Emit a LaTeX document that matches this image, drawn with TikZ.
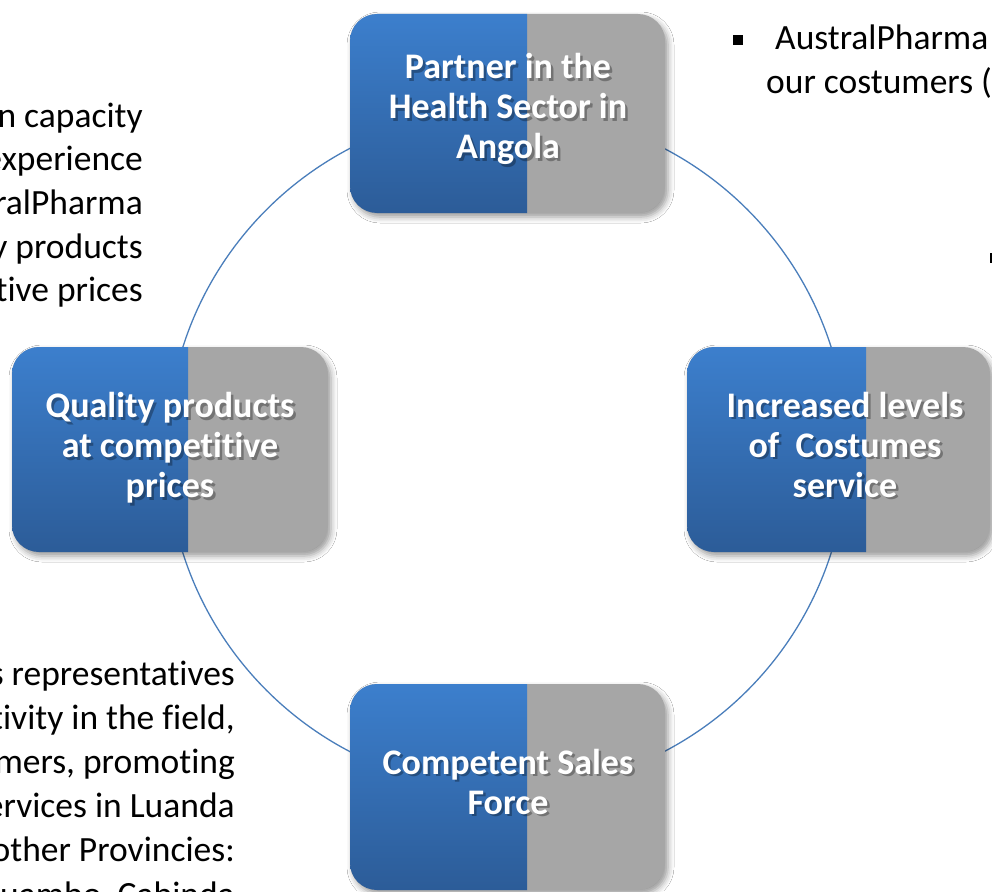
\documentclass[tikz,border=0pt]{standalone}
\usepackage{fontspec}
\setmainfont{Carlito}[Ligatures={NoCommon,NoRequired,NoContextual,NoRare}]
\newXeTeXintercharclass\myTclass
\newXeTeXintercharclass\myIclass
\XeTeXcharclass`t=\myTclass
\XeTeXcharclass`i=\myIclass
\XeTeXinterchartoks\myTclass\myIclass={\kern0pt\relax}
\newcommand{\noti}{\XeTeXinterchartokenstate=1\relax}
\usetikzlibrary{shadows.blur}
\definecolor{bluetop}{RGB}{60,127,205}
\definecolor{bluebot}{RGB}{44,92,152}
\definecolor{graybox}{RGB}{166,166,166}
\definecolor{ringcol}{RGB}{74,126,187}
\tikzset{
  boxshape/.style={fill=graybox, rounded corners=27pt, blur shadow={shadow xshift=3pt, shadow yshift=-4pt, shadow blur radius=6pt, shadow opacity=40}},
  bluepart/.style={top color=bluetop, bottom color=bluebot},
  boxtext/.style={text=white, font=\noti\bfseries\fontsize{36}{40}\selectfont, align=center, inner sep=0pt},
  boxtextshadow/.style={boxtext, text=black, text opacity=0.3},
  sidetext/.style={font=\noti\fontsize{35.5}{43.7}\selectfont, anchor=base east, inner sep=0pt, text=black},
  lefttext/.style={font=\noti\fontsize{35.5}{43.7}\selectfont, anchor=base west, inner sep=0pt, text=black},
  bulletsq/.style={fill=black, inner sep=0pt, minimum size=10pt},
  ring/.style={draw=ringcol, line width=1.3pt},
}
\newcommand{\apbox}[5]{%
  \path[boxshape] (#1,#2) rectangle (#3,#4);
  \begin{scope}
    \clip[rounded corners=27pt] (#1,#2) rectangle (#3,#4);
    \shade[bluepart] (#1,#2) rectangle (#5,#4);
  \end{scope}
}
\begin{document}
\begin{tikzpicture}[x=1pt,y=-1pt]
\useasboundingbox (0,0) rectangle (992,891);
\clip (0,0) rectangle (992,891);
\fill[white] (0,0) rectangle (992,891);
\coordinate (c) at (507,450);
\draw[ring] (c) circle[radius=340];
\apbox{350}{14}{665}{213}{527}
\apbox{12}{347}{328}{552}{188}
\apbox{687}{347}{990}{552}{866}
\apbox{350}{684}{665}{890}{527}

\node[boxtextshadow] (t1s) at (510.5,111.5) {Partner in the\\Health Sector in\\Angola};
\node[boxtext] (t1) at (508,109) {Partner in the\\Health Sector in\\Angola};
\node[boxtextshadow] (t2s) at (172.5,450.5) {Quality products\\at competitive\\prices};
\node[boxtext] (t2) at (170,448) {Quality products\\at competitive\\prices};
\node[boxtextshadow] (t3s) at (847.5,447) {Increased levels\\of~ Costumes\\service};
\node[boxtext] (t3) at (845,444.5) {Increased levels\\of~ Costumes\\service};
\node[boxtextshadow] (t4s) at (510.5,784) {Competent Sales\\Force};
\node[boxtext] (t4) at (508,781.5) {Competent Sales\\Force};

\foreach \s [count=\i] in {{With its high negotiation capacity},{and extensive experience},{AustralPharma},{offers quality products},{at competitive prices}}
  \node[sidetext] (tl\i) at (143,{127+43.7*(\i-1)}) {\s};

\foreach \s [count=\i] in {{Our team of sales representatives},{develops its activity in the field,},{visiting our costumers, promoting},{our products and services in Luanda},{and in the other Provincies:},{Huambo, Cabinda}}
  \node[sidetext] (bl\i) at (235,{685+44.2*(\i-1)}) {\s};

\node[bulletsq] (b1) at (738,40) {};
\node[lefttext] (tr1) at (775,50) {AustralPharma seeks to satisfy};
\node[lefttext] (tr2) at (766,93) {our costumers (needs)};
\node[bulletsq] (b2) at (994.5,257.5) {};
\end{tikzpicture}
\end{document}
